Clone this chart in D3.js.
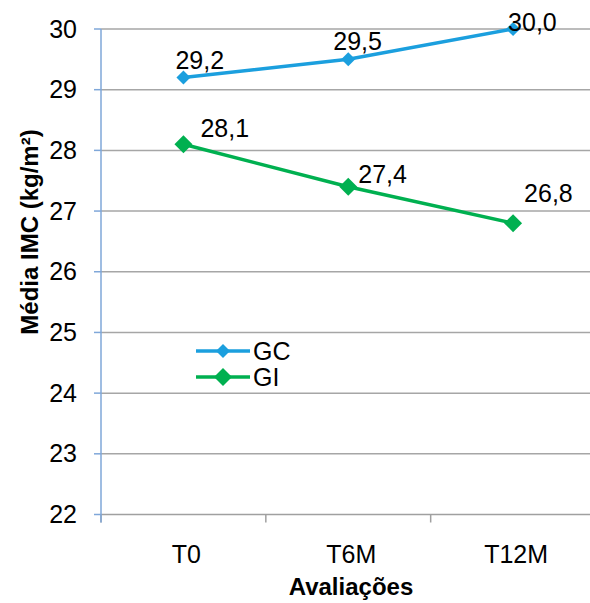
<!DOCTYPE html>
<html>
<head>
<meta charset="utf-8">
<script src="https://cdn.jsdelivr.net/npm/d3@7"></script>
<style>
    body { margin: 0; background: #fff; }
    text { font-family: "Liberation Sans", Arial, sans-serif; fill: #000; }
</style>
</head>
<body>
<div id="chart"></div>
<script>
// data
const categories = ["T0", "T6M", "T12M"];
const gcValues = [29.2, 29.5, 30.0];
const giValues = [28.1, 27.4, 26.8];
const yTicks = [22, 23, 24, 25, 26, 27, 28, 29, 30];

// label offsets relative to the point (style only)
const gcLabelOffset = [[-8, -9], [-15, -9], [-5, 2]];
const giLabelOffset = [[17, -7], [10, -4], [11, -21]];

const width = 590, height = 603;
const margin = { left: 101, top: 29, right: -5.5, bottom: 88.5 };

const svg = d3.select('#chart')
    .append('svg')
    .attr('width', width)
    .attr('height', height);

let x = d3.scaleBand()
    .domain(categories)
    .range([margin.left, width - margin.right])
    .padding(0);

let y = d3.scaleLinear()
    .domain([22, 30])
    .range([height - margin.bottom, margin.top]);

let cx = (c) => x(c) + x.bandwidth() / 2;

//gridlines
svg.append('g')
    .selectAll('line')
    .data(yTicks.filter(d => d > 22))
    .enter()
    .append('line')
    .attr('x1', margin.left)
    .attr('x2', width)
    .attr('y1', d => y(d))
    .attr('y2', d => y(d))
    .style('stroke', '#a6a6a6')
    .style('stroke-width', 1.5);

//x axis
let xAxis = svg.append('g')
    .attr('transform', 'translate(0,' + y(22) + ')');
xAxis.append('line')
    .attr('x1', margin.left).attr('x2', width)
    .style('stroke', '#a0a0a0').style('stroke-width', 1.5);
xAxis.selectAll('.xtick')
    .data(categories.concat(['end']))
    .enter()
    .append('line')
    .attr('x1', (d, i) => i < categories.length ? x(d) : x(categories[i - 1]) + x.bandwidth())
    .attr('x2', (d, i) => i < categories.length ? x(d) : x(categories[i - 1]) + x.bandwidth())
    .attr('y1', 0).attr('y2', 8)
    .style('stroke', '#a0a0a0').style('stroke-width', 1.5);
xAxis.selectAll('.xlabel')
    .data(categories)
    .enter()
    .append('text')
    .attr('x', d => cx(d) + 3)
    .attr('y', 48)
    .style('text-anchor', 'middle')
    .style('font-size', '25px')
    .text(d => d);

//y axis
let yAxis = svg.append('g');
yAxis.append('line')
    .attr('x1', margin.left).attr('x2', margin.left)
    .attr('y1', y(30)).attr('y2', y(22) + 8)
    .style('stroke', '#7fa7d9').style('stroke-width', 1.5);
yAxis.selectAll('.ytick')
    .data(yTicks)
    .enter()
    .append('line')
    .attr('x1', margin.left - 7).attr('x2', margin.left)
    .attr('y1', d => y(d)).attr('y2', d => y(d))
    .style('stroke', '#7fa7d9').style('stroke-width', 1.5);
yAxis.selectAll('.ylabel')
    .data(yTicks)
    .enter()
    .append('text')
    .attr('x', 77)
    .attr('y', d => y(d) + 8.5)
    .style('text-anchor', 'end')
    .style('font-size', '25px')
    .text(d => d);

//axis titles
svg.append('text')
    .attr('transform', 'translate(38,232) rotate(-90)')
    .style('text-anchor', 'middle')
    .style('font-size', '24px')
    .style('font-weight', 'bold')
    .text('Média IMC (kg/m²)');

svg.append('text')
    .attr('x', 351)
    .attr('y', 595)
    .style('text-anchor', 'middle')
    .style('font-size', '24px')
    .style('font-weight', 'bold')
    .text('Avaliações');

//series
function draw_series(values, color, size, offsets) {
    let line = d3.line()
        .x((d, i) => cx(categories[i]))
        .y(d => y(d));

    svg.append('path')
        .datum(values)
        .attr('d', line)
        .style('fill', 'none')
        .style('stroke', color)
        .style('stroke-width', 3.5);

    svg.append('g')
        .selectAll('path')
        .data(values)
        .enter()
        .append('path')
        .attr('transform', (d, i) => 'translate(' + cx(categories[i]) + ',' + y(d) + ')')
        .attr('d', 'M0,' + (-size) + 'L' + size + ',0L0,' + size + 'L' + (-size) + ',0Z')
        .style('fill', color);

    svg.append('g')
        .selectAll('text')
        .data(values)
        .enter()
        .append('text')
        .attr('x', (d, i) => cx(categories[i]) + offsets[i][0])
        .attr('y', (d, i) => y(d) + offsets[i][1])
        .style('font-size', '25px')
        .text(d => d.toFixed(1).replace('.', ','));
}

draw_series(gcValues, '#1b9fde', 7, gcLabelOffset);
draw_series(giValues, '#00b050', 9, giLabelOffset);

//legend
let legend = [['GC', '#1b9fde', 7], ['GI', '#00b050', 9]];
let lg = svg.append('g').selectAll('g')
    .data(legend)
    .enter()
    .append('g')
    .attr('transform', (d, i) => 'translate(196,' + (351 + i * 26) + ')');
lg.append('line')
    .attr('x1', 0).attr('x2', 54)
    .style('stroke', d => d[1]).style('stroke-width', 3.5);
lg.append('path')
    .attr('d', d => 'M27,' + (-d[2]) + 'L' + (27 + d[2]) + ',0L27,' + d[2] + 'L' + (27 - d[2]) + ',0Z')
    .style('fill', d => d[1]);
lg.append('text')
    .attr('x', 57)
    .attr('y', 9)
    .style('font-size', '25px')
    .text(d => d[0]);
</script>
</body>
</html>
